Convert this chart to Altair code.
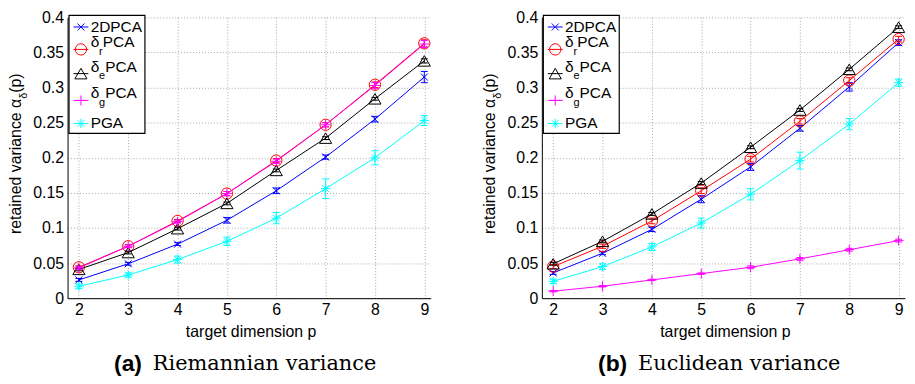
import altair as alt
import pandas as pd

# ---------------- data ----------------
X = [2, 3, 4, 5, 6, 7, 8, 9]
Y_TICKS = [0, 0.05, 0.1, 0.15, 0.2, 0.25, 0.3, 0.35, 0.4]
SERIES = ["2DPCA", "δrPCA", "δePCA", "δgPCA", "PGA"]

# (a) Riemannian variance
R_2DPCA = [0.026, 0.049, 0.077, 0.111, 0.153, 0.201, 0.255, 0.315]
R_2DPCA_ERR = [0.002, 0.002, 0.002, 0.004, 0.004, 0.003, 0.004, 0.008]
R_DR = [0.044, 0.074, 0.110, 0.149, 0.196, 0.247, 0.304, 0.363]
R_DR_ERR = [0.002, 0.002, 0.002, 0.003, 0.003, 0.003, 0.004, 0.005]
R_DE = [0.041, 0.065, 0.099, 0.135, 0.182, 0.228, 0.284, 0.338]
R_DE_ERR = [0.002, 0.002, 0.002, 0.002, 0.002, 0.002, 0.002, 0.003]
R_DG = [0.043, 0.074, 0.109, 0.149, 0.195, 0.247, 0.303, 0.362]
R_DG_ERR = [0.002, 0.002, 0.002, 0.003, 0.003, 0.003, 0.004, 0.005]
R_PGA = [0.017, 0.033, 0.055, 0.081, 0.114, 0.156, 0.200, 0.253]
R_PGA_ERR = [0.003, 0.003, 0.005, 0.006, 0.008, 0.014, 0.010, 0.007]

# (b) Euclidean variance
E_2DPCA = [0.036, 0.064, 0.098, 0.141, 0.187, 0.242, 0.301, 0.364]
E_2DPCA_ERR = [0.002, 0.002, 0.003, 0.005, 0.005, 0.004, 0.006, 0.004]
E_DR = [0.045, 0.074, 0.110, 0.153, 0.198, 0.252, 0.310, 0.369]
E_DR_ERR = [0.003, 0.003, 0.004, 0.004, 0.004, 0.004, 0.004, 0.004]
E_DE = [0.049, 0.081, 0.120, 0.164, 0.215, 0.268, 0.326, 0.386]
E_DE_ERR = [0.002, 0.002, 0.002, 0.002, 0.002, 0.002, 0.002, 0.002]
E_DG = [0.010, 0.017, 0.026, 0.035, 0.044, 0.056, 0.069, 0.082]
E_DG_ERR = [0.001, 0.001, 0.001, 0.001, 0.002, 0.002, 0.002, 0.002]
E_PGA = [0.024, 0.045, 0.073, 0.107, 0.148, 0.196, 0.248, 0.307]
E_PGA_ERR = [0.003, 0.004, 0.005, 0.007, 0.008, 0.012, 0.008, 0.005]

# ---------------- styles ----------------
COLORS = ["#0000ff", "#ff0000", "#000000", "#ff00ff", "#00ffff"]
P_X = "M-1,-1L1,1M-1,1L1,-1"
P_PLUS = "M-1,0L1,0M0,-1L0,1"
P_STAR = "M-1,0L1,0M0,-1L0,1M-0.7,-0.7L0.7,0.7M-0.7,0.7L0.7,-0.7"
SHAPES = [P_X, "circle", "triangle-up", P_PLUS, P_STAR]
SIZES = [50, 130, 150, 100, 90]
SANS = "Liberation Sans"
SERIF = "DejaVu Serif"
W, H = 366, 283

x_axis = alt.Axis(values=X, format="d", title=None, grid=True, gridColor="#a8a8a8",
                  gridDash=[1, 2], tickSize=0, labelFontSize=16, labelFont=SANS,
                  labelColor="black", labelPadding=3, domainColor="black",
                  labelFlush=False)
y_axis = alt.Axis(values=Y_TICKS, format="~g", title=None, grid=True, gridColor="#a8a8a8",
                  gridDash=[1, 2], tickSize=0, labelFontSize=16, labelFont=SANS,
                  labelColor="black", labelPadding=4, domainColor="black",
                  labelFlush=False)
x_scale = alt.Scale(domain=[1.77, 9.13], nice=False, zero=False)
y_scale = alt.Scale(domain=[0, 0.4], nice=False, zero=False)


def one():
    return alt.Chart(pd.DataFrame({"k": [0]}))


def txt(text, x, y, size, align="left", angle=0, font=SANS, weight="normal"):
    return one().mark_text(text=text, align=align, baseline="middle", angle=angle,
                           font=font, fontSize=size, fontWeight=weight,
                           color="black").encode(x=alt.value(x), y=alt.value(y))


def panel(vals, errs, letter, caption, cap_left):
    xs = alt.X("x:Q", scale=x_scale, axis=x_axis)
    layers = []
    for i in range(len(SERIES)):
        df = pd.DataFrame({
            "x": X,
            "y": vals[i],
            "lo": [v - e for v, e in zip(vals[i], errs[i])],
            "hi": [v + e for v, e in zip(vals[i], errs[i])],
        })
        c = COLORS[i]
        base = alt.Chart(df)
        layers.append(base.mark_line(color=c, strokeWidth=1).encode(
            x=xs, y=alt.Y("y:Q", scale=y_scale, axis=y_axis)))
        layers.append(base.mark_rule(color=c, strokeWidth=1).encode(
            x=xs, y=alt.Y("lo:Q", scale=y_scale, axis=y_axis), y2="hi:Q"))
        for f in ["lo", "hi"]:
            layers.append(base.mark_tick(color=c, orient="horizontal", size=7,
                                         thickness=1, opacity=1).encode(
                x=xs, y=alt.Y(f + ":Q", scale=y_scale, axis=y_axis)))
        layers.append(base.mark_point(shape=SHAPES[i], size=SIZES[i], filled=False,
                                      color=c, strokeWidth=1, opacity=1).encode(
            x=xs, y=alt.Y("y:Q", scale=y_scale, axis=y_axis)))

    # legend box
    layers.append(one().mark_rect(fill="white", stroke="black", strokeWidth=1.2).encode(
        x=alt.value(1.5), x2=alt.value(78), y=alt.value(-2), y2=alt.value(117)))
    rows = [9.7, 32.3, 56.7, 83.7, 107.0]
    subs = [None, "r", "e", "g", None]
    pca_x = [None, 35.6, 38.0, 38.0, None]
    for i, name in enumerate(SERIES):
        ly = rows[i]
        c = COLORS[i]
        layers.append(one().mark_rule(color=c, strokeWidth=1).encode(
            x=alt.value(6), x2=alt.value(21), y=alt.value(ly)))
        layers.append(one().mark_point(shape=SHAPES[i], size=SIZES[i], filled=False,
                                       color=c, strokeWidth=1, opacity=1).encode(
            x=alt.value(13.5), y=alt.value(ly)))
        if subs[i] is None:
            layers.append(txt(name, 23.3, ly, 15.5))
        else:
            layers.append(txt("δ", 23.3, ly - 7, 15.5))
            layers.append(txt(subs[i], 31.8, ly + 2.5, 11))
            layers.append(txt("PCA", pca_x[i], ly - 7, 15.5))

    # y axis title: retained variance α_δ(p)
    layers.append(txt("retained variance α", -52, 82, 16, align="right", angle=270))
    layers.append(txt("δ", -44, 82, 11, align="left", angle=270))
    layers.append(txt("(p)", -52, 76, 16, align="left", angle=270))
    # x axis title
    layers.append(txt("target dimension p", 185, 317, 16, align="center"))
    # caption
    layers.append(txt(letter, cap_left, 349, 23, align="right", weight="bold"))
    layers.append(txt(caption, cap_left + 11, 349, 21, font=SERIF))

    return alt.layer(*layers).properties(width=W, height=H)


left = panel([R_2DPCA, R_DR, R_DE, R_DG, R_PGA],
             [R_2DPCA_ERR, R_DR_ERR, R_DE_ERR, R_DG_ERR, R_PGA_ERR],
             "(a)", "Riemannian variance", 75)
right = panel([E_2DPCA, E_DR, E_DE, E_DG, E_PGA],
              [E_2DPCA_ERR, E_DR_ERR, E_DE_ERR, E_DG_ERR, E_PGA_ERR],
              "(b)", "Euclidean variance", 86)

chart = alt.hconcat(left, right, spacing=50).properties(padding=0).configure_view(stroke=None)

chart.save("out.html", embed_options={"renderer": "svg", "actions": False})
